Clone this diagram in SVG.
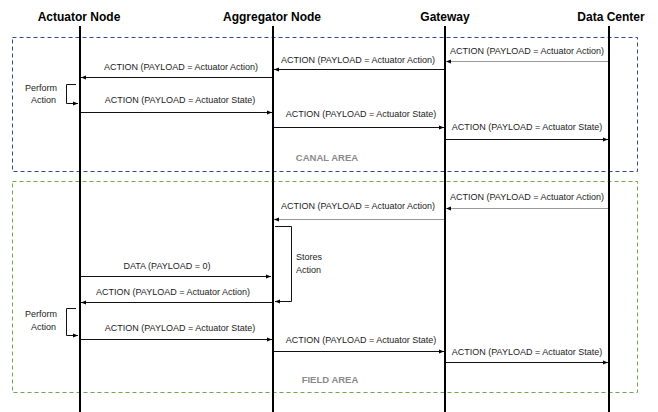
<svg xmlns="http://www.w3.org/2000/svg" width="658" height="412" viewBox="0 0 658 412">
<defs>
<marker id="ah" markerWidth="6" markerHeight="6" refX="5" refY="3" orient="auto" markerUnits="userSpaceOnUse">
<path d="M0,1 L5,3 L0,5 Z" fill="#000"/>
</marker>
<style>
.hdr{font-family:"Liberation Sans",Arial,sans-serif;font-size:12px;font-weight:bold;fill:#000;text-anchor:middle}
.lbl{font-family:"Liberation Sans",Arial,sans-serif;font-size:9px;fill:#222;text-anchor:middle}
.note{font-family:"Liberation Sans",Arial,sans-serif;font-size:9px;fill:#222}
.area{font-family:"Liberation Sans",Arial,sans-serif;font-size:9.5px;font-weight:bold;fill:#8a8a8a;text-anchor:middle}
.life{stroke:#000;stroke-width:2}
.msg{stroke:#111;stroke-width:1;fill:none;marker-end:url(#ah)}
.msgg{stroke:#999;stroke-width:1.2;fill:none;marker-end:url(#ah)}
.brk{stroke:#111;stroke-width:1;fill:none;marker-end:url(#ah)}
</style>
</defs>
<rect width="658" height="412" fill="#fff"/>
<g id="canal-area">
<rect x="12.5" y="37.5" width="625" height="134" fill="none" stroke="#2f4d8c" stroke-width="1" stroke-dasharray="4,3"/>
<text class="area" x="327" y="161">CANAL AREA</text>
</g>
<g id="field-area">
<rect x="12.5" y="181.5" width="625" height="211" fill="none" stroke="#6fa84a" stroke-width="1" stroke-dasharray="4,3"/>
<text class="area" x="330" y="383">FIELD AREA</text>
</g>
<g id="actuator-node">
<text class="hdr" x="79" y="21">Actuator Node</text>
<line class="life" x1="80" y1="26" x2="80" y2="412"/>
</g>
<g id="aggregator-node">
<text class="hdr" x="272" y="21">Aggregator Node</text>
<line class="life" x1="273" y1="26" x2="273" y2="412"/>
</g>
<g id="gateway">
<text class="hdr" x="445" y="21">Gateway</text>
<line class="life" x1="445" y1="26" x2="445" y2="412"/>
</g>
<g id="data-center">
<text class="hdr" x="611" y="21">Data Center</text>
<line class="life" x1="609" y1="26" x2="609" y2="412"/>
</g>
<g id="connectors">
<line class="msgg" x1="608" y1="61.5" x2="446" y2="61.5"/>
<text class="lbl" x="527" y="54">ACTION (PAYLOAD = Actuator Action)</text>
<line class="msg" x1="444" y1="69.5" x2="274" y2="69.5"/>
<text class="lbl" x="358" y="63">ACTION (PAYLOAD = Actuator Action)</text>
<line class="msg" x1="272" y1="77.5" x2="81" y2="77.5"/>
<text class="lbl" x="181" y="70">ACTION (PAYLOAD = Actuator Action)</text>
<path class="brk" d="M76,84.5 H66.5 V103.5 H78"/>
<text class="note" x="25" y="91">Perform</text>
<text class="note" x="31" y="103">Action</text>
<line class="msg" x1="81" y1="112.5" x2="272" y2="112.5"/>
<text class="lbl" x="180" y="103">ACTION (PAYLOAD = Actuator State)</text>
<line class="msg" x1="274" y1="127.5" x2="444" y2="127.5"/>
<text class="lbl" x="361" y="117">ACTION (PAYLOAD = Actuator State)</text>
<line class="msg" x1="446" y1="139.5" x2="608" y2="139.5"/>
<text class="lbl" x="527" y="130">ACTION (PAYLOAD = Actuator State)</text>
<line class="msgg" x1="608" y1="208.5" x2="446" y2="208.5"/>
<text class="lbl" x="527" y="200">ACTION (PAYLOAD = Actuator Action)</text>
<line class="msgg" x1="444" y1="219.5" x2="274" y2="219.5"/>
<text class="lbl" x="358" y="209">ACTION (PAYLOAD = Actuator Action)</text>
<path class="brk" d="M275,226.5 H291.5 V301.5 H275"/>
<text class="note" x="296" y="260">Stores</text>
<text class="note" x="296" y="273">Action</text>
<line class="msg" x1="81" y1="276.5" x2="271" y2="276.5"/>
<text class="lbl" x="167" y="269">DATA (PAYLOAD = 0)</text>
<line class="msg" x1="272" y1="302.5" x2="81" y2="302.5"/>
<text class="lbl" x="173" y="295" fill="#000">ACTION (PAYLOAD = Actuator Action)</text>
<path class="brk" d="M76,308.5 H66.5 V335.5 H78"/>
<text class="note" x="25" y="317">Perform</text>
<text class="note" x="31" y="330">Action</text>
<line class="msg" x1="81" y1="339.5" x2="272" y2="339.5"/>
<text class="lbl" x="180" y="331">ACTION (PAYLOAD = Actuator State)</text>
<line class="msg" x1="274" y1="351.5" x2="444" y2="351.5"/>
<text class="lbl" x="361" y="343">ACTION (PAYLOAD = Actuator State)</text>
<line class="msg" x1="446" y1="362.5" x2="608" y2="362.5"/>
<text class="lbl" x="527" y="355">ACTION (PAYLOAD = Actuator State)</text>
</g>
</svg>
